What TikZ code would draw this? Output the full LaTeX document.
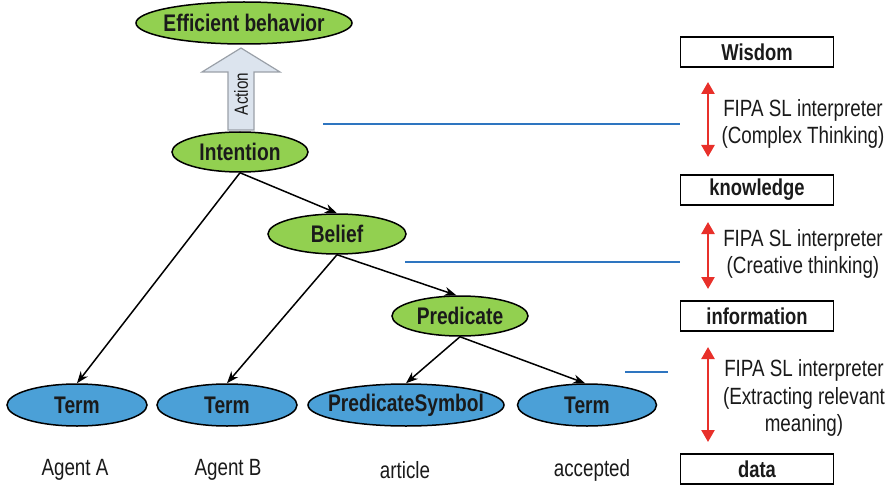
\documentclass[tikz,border=0pt]{standalone}
\usepackage{fontspec}
\setmainfont{Liberation Sans}[FakeStretch=0.8]
\usetikzlibrary{arrows.meta,shapes.geometric}

\definecolor{leaf}{RGB}{146,208,80}
\definecolor{sky}{RGB}{75,160,215}
\definecolor{alarm}{RGB}{232,48,42}
\definecolor{link}{RGB}{46,117,192}
\definecolor{ink}{RGB}{26,26,26}
\definecolor{actfill}{RGB}{220,228,238}
\definecolor{actline}{RGB}{154,160,168}

% label text that does not widen its ellipse
\newcommand\ctext[1]{\makebox[0pt]{#1}}

\begin{document}
\begin{tikzpicture}[x=1pt,y=-1pt,
  oval/.style={ellipse, draw=black, line width=1.5pt, inner sep=0pt,
    minimum height=42pt, text=ink,
    font=\fontsize{24}{28}\selectfont\bfseries},
  gnode/.style={oval, fill=leaf},
  bnode/.style={oval, fill=sky},
  edge/.style={draw=black, line width=1.5pt, -{Stealth[length=12pt,width=9pt]}},
  lvl/.style={draw=black, line width=1.4pt, minimum width=153pt,
    minimum height=30pt, inner sep=0pt, text=ink,
    font=\fontsize{23}{26}\selectfont\bfseries},
  fipa/.style={align=center, text=ink, inner sep=0pt,
    font=\fontsize{23.5}{27.5}\selectfont},
  agent/.style={text=ink, inner sep=0pt, font=\fontsize{23.5}{27}\selectfont},
  redarr/.style={draw=alarm, line width=2.4pt,
    {Triangle[length=12pt,width=13pt]}-{Triangle[length=12pt,width=13pt]}},
  bluel/.style={draw=link, line width=1.6pt}
]
\useasboundingbox (0,0) rectangle (893,489);

% the hollow "Action" arrow
\draw[fill=actfill, draw=actline, line width=1.2pt]
  (228,130) -- (228,72) -- (202,72) -- (241,48) -- (280,72) -- (254,72)
  -- (254,130) -- cycle;
\node[rotate=90, text=ink, inner sep=0pt,
  font=\fontsize{19}{22}\selectfont] (act) at (241,94) {Action};

% tree nodes
\node[gnode, minimum width=216pt] (eff) at (244,23) {\ctext{Efficient behavior}};
\node[gnode, minimum width=136pt, minimum height=40pt] (int) at (240,152) {\ctext{Intention}};
\node[gnode, minimum width=138pt, minimum height=40pt] (bel) at (337,234) {\ctext{Belief}};
\node[gnode, minimum width=136pt, minimum height=40pt] (pred) at (460,316) {\ctext{Predicate}};
\node[bnode, minimum width=140pt] (t1) at (77,405) {\ctext{Term}};
\node[bnode, minimum width=140pt] (t2) at (227,405) {\ctext{Term}};
\node[bnode, minimum width=196pt] (ps) at (406,405) {\ctext{PredicateSymbol}};
\node[bnode, minimum width=139pt] (t3) at (587,405) {\ctext{Term}};

% tree edges
\draw[edge] (int.south) -- (t1.north);
\draw[edge] (int.south) -- (bel.north);
\draw[edge] (bel.south) -- (t2.north);
\draw[edge] (bel.south) -- (pred.100);
\draw[edge] (pred.south) -- (ps.north);
\draw[edge] (pred.south) -- (t3.95);

% instance labels
\node[agent] (la) at (75,470) {Agent A};
\node[agent] (lb) at (228,470) {Agent B};
\node[agent] (lc) at (405,470) {article};
\node[agent] (ld) at (592,470) {accepted};

% hierarchy levels
\node[lvl] (wis) at (757,52) {Wisdom};
\node[lvl] (kno) at (757,190) {knowledge};
\node[lvl] (inf) at (757,316) {information};
\node[lvl] (dat) at (757,469) {data};

% interpreter steps between levels
\coordinate (r1a) at (708,82);  \coordinate (r1b) at (708,157);
\coordinate (r2a) at (708,222); \coordinate (r2b) at (708,289);
\coordinate (r3a) at (708,347); \coordinate (r3b) at (708,442);
\draw[redarr] (r1a) -- (r1b);
\draw[redarr] (r2a) -- (r2b);
\draw[redarr] (r3a) -- (r3b);

\node[fipa] (f1) at (803,124) {FIPA SL interpreter\\(Complex Thinking)};
\node[fipa] (f2) at (803,254) {FIPA SL interpreter\\(Creative thinking)};
\node[fipa] (f3) at (804,398) {FIPA SL interpreter\\(Extracting relevant\\meaning)};

% guide lines from the tree to the steps
\coordinate (b1a) at (323,124); \coordinate (b1b) at (680,124);
\coordinate (b2a) at (405,262); \coordinate (b2b) at (680,262);
\coordinate (b3a) at (625,372); \coordinate (b3b) at (668,372);
\draw[bluel] (b1a) -- (b1b);
\draw[bluel] (b2a) -- (b2b);
\draw[bluel] (b3a) -- (b3b);
\end{tikzpicture}
\end{document}
